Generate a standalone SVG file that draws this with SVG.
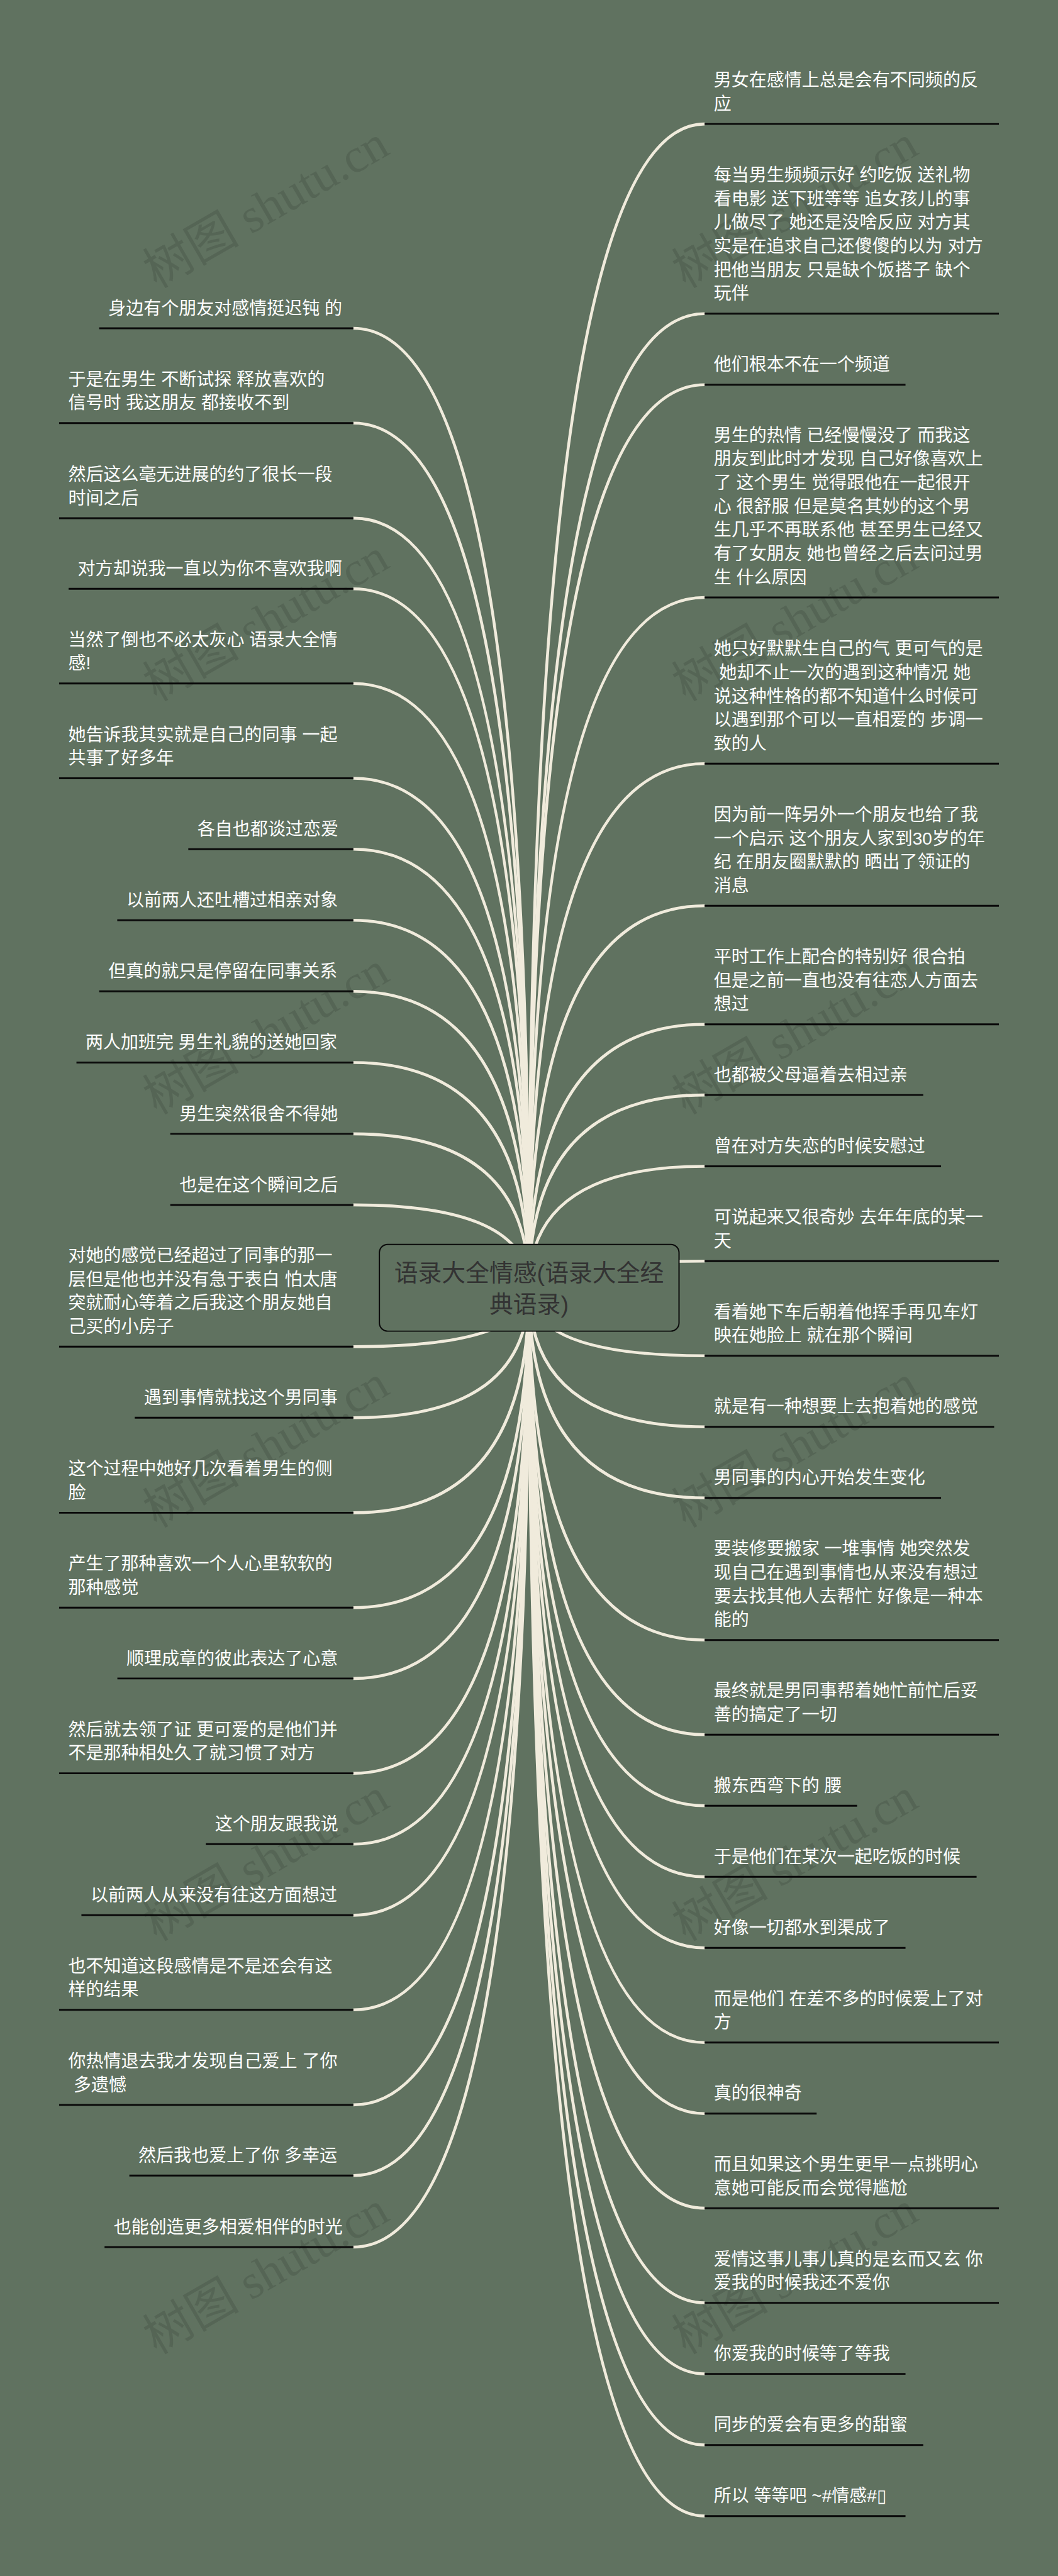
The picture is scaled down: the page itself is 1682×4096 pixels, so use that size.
<svg xmlns="http://www.w3.org/2000/svg" width="1682" height="4096" viewBox="0 0 1682 4096">
<style>
text{font-family:"Liberation Sans","Noto Sans CJK SC",sans-serif}
.t{font-size:42.67px;fill:#fff}
.r{font-size:57.6px;fill:#333;text-anchor:middle}
.l{stroke:#0a0a0a;stroke-width:4.5;fill:none}
.c{stroke:#f0ebdc;stroke-width:7;fill:none}
.w{font-family:"Liberation Serif","Noto Sans CJK SC",serif;font-size:117px;fill:#000;fill-opacity:.11}
</style>
<rect width="1682" height="4096" fill="#607260"/>
<g transform="scale(.65703)">
<g id="watermarks">
<text class="w" transform="translate(379 699) rotate(-30)">树图 shutu.cn</text>
<text class="w" transform="translate(1659 699) rotate(-30)">树图 shutu.cn</text>
<text class="w" transform="translate(379 1699) rotate(-30)">树图 shutu.cn</text>
<text class="w" transform="translate(1659 1699) rotate(-30)">树图 shutu.cn</text>
<text class="w" transform="translate(379 2699) rotate(-30)">树图 shutu.cn</text>
<text class="w" transform="translate(1659 2699) rotate(-30)">树图 shutu.cn</text>
<text class="w" transform="translate(379 3699) rotate(-30)">树图 shutu.cn</text>
<text class="w" transform="translate(1659 3699) rotate(-30)">树图 shutu.cn</text>
<text class="w" transform="translate(379 4699) rotate(-30)">树图 shutu.cn</text>
<text class="w" transform="translate(1659 4699) rotate(-30)">树图 shutu.cn</text>
<text class="w" transform="translate(379 5699) rotate(-30)">树图 shutu.cn</text>
<text class="w" transform="translate(1659 5699) rotate(-30)">树图 shutu.cn</text>
</g>
<g id="connectors" class="c">
<path d="M855 794.5Q1280 794.5 1280 3116.5"/>
<path d="M855 1024Q1280 1024 1280 3116.5"/>
<path d="M855 1254Q1280 1254 1280 3116.5"/>
<path d="M855 1425Q1280 1425 1280 3116.5"/>
<path d="M855 1654Q1280 1654 1280 3116.5"/>
<path d="M855 1883.5Q1280 1883.5 1280 3116.5"/>
<path d="M855 2055Q1280 2055 1280 3116.5"/>
<path d="M855 2227Q1280 2227 1280 3116.5"/>
<path d="M855 2399Q1280 2399 1280 3116.5"/>
<path d="M855 2571.5Q1280 2571.5 1280 3116.5"/>
<path d="M855 2744Q1280 2744 1280 3116.5"/>
<path d="M855 2916Q1280 2916 1280 3116.5"/>
<path d="M855 3259Q1280 3259 1280 3116.5"/>
<path d="M855 3431Q1280 3431 1280 3116.5"/>
<path d="M855 3661Q1280 3661 1280 3116.5"/>
<path d="M855 3890.5Q1280 3890.5 1280 3116.5"/>
<path d="M855 4062Q1280 4062 1280 3116.5"/>
<path d="M855 4291.5Q1280 4291.5 1280 3116.5"/>
<path d="M855 4463Q1280 4463 1280 3116.5"/>
<path d="M855 4635Q1280 4635 1280 3116.5"/>
<path d="M855 4864Q1280 4864 1280 3116.5"/>
<path d="M855 5094Q1280 5094 1280 3116.5"/>
<path d="M855 5265Q1280 5265 1280 3116.5"/>
<path d="M855 5438Q1280 5438 1280 3116.5"/>
<path d="M1705 300Q1280 300 1280 3116.5"/>
<path d="M1705 759Q1280 759 1280 3116.5"/>
<path d="M1705 931Q1280 931 1280 3116.5"/>
<path d="M1705 1446Q1280 1446 1280 3116.5"/>
<path d="M1705 1848Q1280 1848 1280 3116.5"/>
<path d="M1705 2192Q1280 2192 1280 3116.5"/>
<path d="M1705 2479Q1280 2479 1280 3116.5"/>
<path d="M1705 2650Q1280 2650 1280 3116.5"/>
<path d="M1705 2822.5Q1280 2822.5 1280 3116.5"/>
<path d="M1705 3052Q1280 3052 1280 3116.5"/>
<path d="M1705 3281Q1280 3281 1280 3116.5"/>
<path d="M1705 3453Q1280 3453 1280 3116.5"/>
<path d="M1705 3625Q1280 3625 1280 3116.5"/>
<path d="M1705 3969Q1280 3969 1280 3116.5"/>
<path d="M1705 4198Q1280 4198 1280 3116.5"/>
<path d="M1705 4370Q1280 4370 1280 3116.5"/>
<path d="M1705 4542Q1280 4542 1280 3116.5"/>
<path d="M1705 4714Q1280 4714 1280 3116.5"/>
<path d="M1705 4943Q1280 4943 1280 3116.5"/>
<path d="M1705 5115Q1280 5115 1280 3116.5"/>
<path d="M1705 5344Q1280 5344 1280 3116.5"/>
<path d="M1705 5573Q1280 5573 1280 3116.5"/>
<path d="M1705 5745Q1280 5745 1280 3116.5"/>
<path d="M1705 5917Q1280 5917 1280 3116.5"/>
<path d="M1705 6089Q1280 6089 1280 3116.5"/>
</g>
<g id="root">
<rect x="918" y="3011.5" width="725" height="210" rx="20" fill="#607260" stroke="#0a0a0a" stroke-width="3"/>
<text class="r"><tspan x="1280" y="3100">语录大全情感(语录大全经</tspan><tspan x="1280" y="3177">典语录)</tspan></text>
</g>
<g id="left-1"><path class="l" d="M240 794.5H855"/><text class="t" x="262" y="760.5">身边有个朋友对感情挺迟钝 的</text></g>
<g id="left-2"><path class="l" d="M143 1024H855"/><text class="t"><tspan x="165" y="932.7">于是在男生 不断试探 释放喜欢的</tspan><tspan x="165" dy="57.3">信号时 我这朋友 都接收不到</tspan></text></g>
<g id="left-3"><path class="l" d="M143 1254H855"/><text class="t"><tspan x="165" y="1162.7">然后这么毫无进展的约了很长一段</tspan><tspan x="165" dy="57.3">时间之后</tspan></text></g>
<g id="left-4"><path class="l" d="M166 1425H855"/><text class="t" x="188" y="1391">对方却说我一直以为你不喜欢我啊</text></g>
<g id="left-5"><path class="l" d="M143 1654H855"/><text class="t"><tspan x="165" y="1562.7">当然了倒也不必太灰心 语录大全情</tspan><tspan x="165" dy="57.3">感!</tspan></text></g>
<g id="left-6"><path class="l" d="M143 1883.5H855"/><text class="t"><tspan x="165" y="1792.2">她告诉我其实就是自己的同事 一起</tspan><tspan x="165" dy="57.3">共事了好多年</tspan></text></g>
<g id="left-7"><path class="l" d="M455.6 2055H855"/><text class="t" x="477.6" y="2021">各自也都谈过恋爱</text></g>
<g id="left-8"><path class="l" d="M283.7 2227H855"/><text class="t" x="306" y="2193">以前两人还吐槽过相亲对象</text></g>
<g id="left-9"><path class="l" d="M240 2399H855"/><text class="t" x="262" y="2365">但真的就只是停留在同事关系</text></g>
<g id="left-10"><path class="l" d="M185 2571.5H855"/><text class="t" x="207" y="2537.5">两人加班完 男生礼貌的送她回家</text></g>
<g id="left-11"><path class="l" d="M412 2744H855"/><text class="t" x="434" y="2710">男生突然很舍不得她</text></g>
<g id="left-12"><path class="l" d="M412 2916H855"/><text class="t" x="434" y="2882">也是在这个瞬间之后</text></g>
<g id="left-13"><path class="l" d="M143 3259H855"/><text class="t"><tspan x="165" y="3053.1">对她的感觉已经超过了同事的那一</tspan><tspan x="165" dy="57.3">层但是他也并没有急于表白 怕太唐</tspan><tspan x="165" dy="57.3">突就耐心等着之后我这个朋友她自</tspan><tspan x="165" dy="57.3">己买的小房子</tspan></text></g>
<g id="left-14"><path class="l" d="M326 3431H855"/><text class="t" x="348" y="3397">遇到事情就找这个男同事</text></g>
<g id="left-15"><path class="l" d="M143 3661H855"/><text class="t"><tspan x="165" y="3569.7">这个过程中她好几次看着男生的侧</tspan><tspan x="165" dy="57.3">脸</tspan></text></g>
<g id="left-16"><path class="l" d="M143 3890.5H855"/><text class="t"><tspan x="165" y="3799.2">产生了那种喜欢一个人心里软软的</tspan><tspan x="165" dy="57.3">那种感觉</tspan></text></g>
<g id="left-17"><path class="l" d="M284 4062H855"/><text class="t" x="306" y="4028">顺理成章的彼此表达了心意</text></g>
<g id="left-18"><path class="l" d="M143 4291.5H855"/><text class="t"><tspan x="165" y="4200.2">然后就去领了证 更可爱的是他们并</tspan><tspan x="165" dy="57.3">不是那种相处久了就习惯了对方</tspan></text></g>
<g id="left-19"><path class="l" d="M498 4463H855"/><text class="t" x="520" y="4429">这个朋友跟我说</text></g>
<g id="left-20"><path class="l" d="M197 4635H855"/><text class="t" x="219" y="4601">以前两人从来没有往这方面想过</text></g>
<g id="left-21"><path class="l" d="M143 4864H855"/><text class="t"><tspan x="165" y="4772.7">也不知道这段感情是不是还会有这</tspan><tspan x="165" dy="57.3">样的结果</tspan></text></g>
<g id="left-22"><path class="l" d="M143 5094H855"/><text class="t"><tspan x="165" y="5002.7">你热情退去我才发现自己爱上 了你</tspan><tspan x="178" dy="57.3">多遗憾</tspan></text></g>
<g id="left-23"><path class="l" d="M313 5265H855"/><text class="t" x="335" y="5231">然后我也爱上了你 多幸运</text></g>
<g id="left-24"><path class="l" d="M253 5438H855"/><text class="t" x="275" y="5404">也能创造更多相爱相伴的时光</text></g>
<g id="right-1"><path class="l" d="M1705 300H2417"/><text class="t"><tspan x="1727" y="208.7">男女在感情上总是会有不同频的反</tspan><tspan x="1727" dy="57.3">应</tspan></text></g>
<g id="right-2"><path class="l" d="M1705 759H2417"/><text class="t"><tspan x="1727" y="438.5">每当男生频频示好 约吃饭 送礼物</tspan><tspan x="1727" dy="57.3">看电影 送下班等等 追女孩儿的事</tspan><tspan x="1727" dy="57.3">儿做尽了 她还是没啥反应 对方其</tspan><tspan x="1727" dy="57.3">实是在追求自己还傻傻的以为 对方</tspan><tspan x="1727" dy="57.3">把他当朋友 只是缺个饭搭子 缺个</tspan><tspan x="1727" dy="57.3">玩伴</tspan></text></g>
<g id="right-3"><path class="l" d="M1705 931H2191"/><text class="t" x="1727" y="897">他们根本不在一个频道</text></g>
<g id="right-4"><path class="l" d="M1705 1446H2417"/><text class="t"><tspan x="1727" y="1068.2">男生的热情 已经慢慢没了 而我这</tspan><tspan x="1727" dy="57.3">朋友到此时才发现 自己好像喜欢上</tspan><tspan x="1727" dy="57.3">了 这个男生 觉得跟他在一起很开</tspan><tspan x="1727" dy="57.3">心 很舒服 但是莫名其妙的这个男</tspan><tspan x="1727" dy="57.3">生几乎不再联系他 甚至男生已经又</tspan><tspan x="1727" dy="57.3">有了女朋友 她也曾经之后去问过男</tspan><tspan x="1727" dy="57.3">生 什么原因</tspan></text></g>
<g id="right-5"><path class="l" d="M1705 1848H2417"/><text class="t"><tspan x="1727" y="1584.8">她只好默默生自己的气 更可气的是</tspan><tspan x="1740" dy="57.3">她却不止一次的遇到这种情况 她</tspan><tspan x="1727" dy="57.3">说这种性格的都不知道什么时候可</tspan><tspan x="1727" dy="57.3">以遇到那个可以一直相爱的 步调一</tspan><tspan x="1727" dy="57.3">致的人</tspan></text></g>
<g id="right-6"><path class="l" d="M1705 2192H2417"/><text class="t"><tspan x="1727" y="1986.1">因为前一阵另外一个朋友也给了我</tspan><tspan x="1727" dy="57.3">一个启示 这个朋友人家到30岁的年</tspan><tspan x="1727" dy="57.3">纪 在朋友圈默默的 晒出了领证的</tspan><tspan x="1727" dy="57.3">消息</tspan></text></g>
<g id="right-7"><path class="l" d="M1705 2479H2417"/><text class="t"><tspan x="1727" y="2330.4">平时工作上配合的特别好 很合拍</tspan><tspan x="1727" dy="57.3">但是之前一直也没有往恋人方面去</tspan><tspan x="1727" dy="57.3">想过</tspan></text></g>
<g id="right-8"><path class="l" d="M1705 2650H2234"/><text class="t" x="1727" y="2616">也都被父母逼着去相过亲</text></g>
<g id="right-9"><path class="l" d="M1705 2822.5H2277"/><text class="t" x="1727" y="2788.5">曾在对方失恋的时候安慰过</text></g>
<g id="right-10"><path class="l" d="M1705 3052H2417"/><text class="t"><tspan x="1727" y="2960.7">可说起来又很奇妙 去年年底的某一</tspan><tspan x="1727" dy="57.3">天</tspan></text></g>
<g id="right-11"><path class="l" d="M1705 3281H2417"/><text class="t"><tspan x="1727" y="3189.7">看着她下车后朝着他挥手再见车灯</tspan><tspan x="1727" dy="57.3">映在她脸上 就在那个瞬间</tspan></text></g>
<g id="right-12"><path class="l" d="M1705 3453H2405.5"/><text class="t" x="1727" y="3419">就是有一种想要上去抱着她的感觉</text></g>
<g id="right-13"><path class="l" d="M1705 3625H2277"/><text class="t" x="1727" y="3591">男同事的内心开始发生变化</text></g>
<g id="right-14"><path class="l" d="M1705 3969H2417"/><text class="t"><tspan x="1727" y="3763.1">要装修要搬家 一堆事情 她突然发</tspan><tspan x="1727" dy="57.3">现自己在遇到事情也从来没有想过</tspan><tspan x="1727" dy="57.3">要去找其他人去帮忙 好像是一种本</tspan><tspan x="1727" dy="57.3">能的</tspan></text></g>
<g id="right-15"><path class="l" d="M1705 4198H2417"/><text class="t"><tspan x="1727" y="4106.7">最终就是男同事帮着她忙前忙后妥</tspan><tspan x="1727" dy="57.3">善的搞定了一切</tspan></text></g>
<g id="right-16"><path class="l" d="M1705 4370H2074"/><text class="t" x="1727" y="4336">搬东西弯下的 腰</text></g>
<g id="right-17"><path class="l" d="M1705 4542H2363"/><text class="t" x="1727" y="4508">于是他们在某次一起吃饭的时候</text></g>
<g id="right-18"><path class="l" d="M1705 4714H2191"/><text class="t" x="1727" y="4680">好像一切都水到渠成了</text></g>
<g id="right-19"><path class="l" d="M1705 4943H2417"/><text class="t"><tspan x="1727" y="4851.7">而是他们 在差不多的时候爱上了对</tspan><tspan x="1727" dy="57.3">方</tspan></text></g>
<g id="right-20"><path class="l" d="M1705 5115H1976"/><text class="t" x="1727" y="5081">真的很神奇</text></g>
<g id="right-21"><path class="l" d="M1705 5344H2417"/><text class="t"><tspan x="1727" y="5252.7">而且如果这个男生更早一点挑明心</tspan><tspan x="1727" dy="57.3">意她可能反而会觉得尴尬</tspan></text></g>
<g id="right-22"><path class="l" d="M1705 5573H2417"/><text class="t"><tspan x="1727" y="5481.7">爱情这事儿事儿真的是玄而又玄 你</tspan><tspan x="1727" dy="57.3">爱我的时候我还不爱你</tspan></text></g>
<g id="right-23"><path class="l" d="M1705 5745H2191"/><text class="t" x="1727" y="5711">你爱我的时候等了等我</text></g>
<g id="right-24"><path class="l" d="M1705 5917H2234"/><text class="t" x="1727" y="5883">同步的爱会有更多的甜蜜</text></g>
<g id="right-25"><path class="l" d="M1705 6089H2191"/><text class="t" x="1727" y="6055">所以 等等吧 ~#情感#▯</text></g>
</g>
</svg>
